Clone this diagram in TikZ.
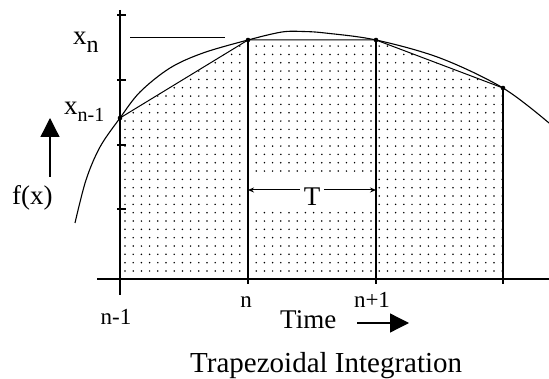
\documentclass[tikz,border=0pt]{standalone}
\usepackage{fontspec}
\setmainfont{Liberation Serif}
\usetikzlibrary{arrows.meta, positioning}

\begin{document}
\begin{tikzpicture}[x=1pt, y=-1pt, >=Stealth,
    lbl/.style={inner sep=0pt, font=\fontsize{27}{30}\selectfont},
    idx/.style={inner sep=0pt, font=\fontsize{23}{26}\selectfont},
    bigarrow/.style={line width=1.3pt, -{Triangle[length=19pt, width=19pt]}}]
  \useasboundingbox (0,0) rectangle (549,379);

  \coordinate (p0) at (120,118);
  \coordinate (p1) at (248,40);
  \coordinate (p2) at (376,40);
  \coordinate (p3) at (503,88);
  \coordinate (b0) at (120,279);
  \coordinate (b1) at (248,279);
  \coordinate (b2) at (376,279);
  \coordinate (b3) at (503,279);

  % dotted trapezoids
  \begin{scope}
    \clip (b0) -- (p0) -- (p1) -- (p2) -- (p3) -- (b3) -- cycle;
    \foreach \i in {0,...,46}
      \foreach \j in {0,...,29}
        \fill (125+8.2*\i, 271-8.33*\j) circle (0.85);
  \end{scope}
  \fill[white] (251,176) rectangle (373,209);

  % axes
  \draw[line width=1.6pt] (97,279) -- (549,279);
  \draw[line width=1.6pt] (120,10) -- (120,295);
  \foreach \y in {15,80,145,209}
    \draw[line width=1.2pt] (117,\y) -- (126,\y);

  % ordinates and chords
  \draw[line width=1.6pt] (p1) -- (248,284);
  \draw[line width=1.6pt] (p2) -- (376,284);
  \draw[line width=1.6pt] (p3) -- (503,284);
  \draw[line width=1pt] (p0) -- (p1) -- (p2) -- (p3);
  \draw[line width=1pt] (130,38) -- (225,38);

  % the function
  \draw[line width=1.1pt] plot[smooth, tension=0.55] coordinates
    {(75,223) (86,180) (100,147) (120,118) (140,92) (170,68) (203,53)
     (248,40) (282,32) (303,31.5) (325,33) (376,40) (440,58) (503,88) (549,123)};

  \foreach \p in {p0,p1,p2,p3}
    \fill (\p) circle (2.3);

  % labels
  \node[lbl, anchor=base west] (lxn) at (73,45) {x\raisebox{-8pt}{\fontsize{24}{26}\selectfont n}};
  \node[lbl, anchor=base west] (lxn1) at (64,115) {x\raisebox{-7pt}{\fontsize{20}{22}\selectfont n-1}};
  \node[lbl, anchor=base west] (lfx) at (12,205) {f(x)};
  \node[idx, anchor=base] (ln1) at (116,325) {n-1};
  \node[idx, anchor=base] (ln) at (246,308) {n};
  \node[idx, anchor=base] (lnp1) at (372,308) {n+1};
  \node[lbl, anchor=base west] (ltime) at (280,329) {Time};
  \node[inner sep=0pt, font=\fontsize{29}{32}\selectfont, anchor=base west] (ltitle) at (190,373)
    {Trapezoidal Integration};
  \node[lbl, inner sep=3.5pt, anchor=base] (lT) at (312,206) {T};

  % arrows
  \coordinate (fdn) at (50,177);
  \coordinate (fup) at (50,118);
  \draw[bigarrow] (fdn) -- (fup);
  \coordinate (tstart) at (357,323);
  \coordinate (tend) at (409,323);
  \draw[bigarrow] (tstart) -- (tend);
  \coordinate (tl) at (248,190);
  \coordinate (tr) at (376,190);
  \draw[line width=1pt, -{Stealth[length=6pt, width=5pt]}] (lT.west |- tl) -- (tl);
  \draw[line width=1pt, -{Stealth[length=6pt, width=5pt]}] (lT.east |- tr) -- (tr);
\end{tikzpicture}
\end{document}
